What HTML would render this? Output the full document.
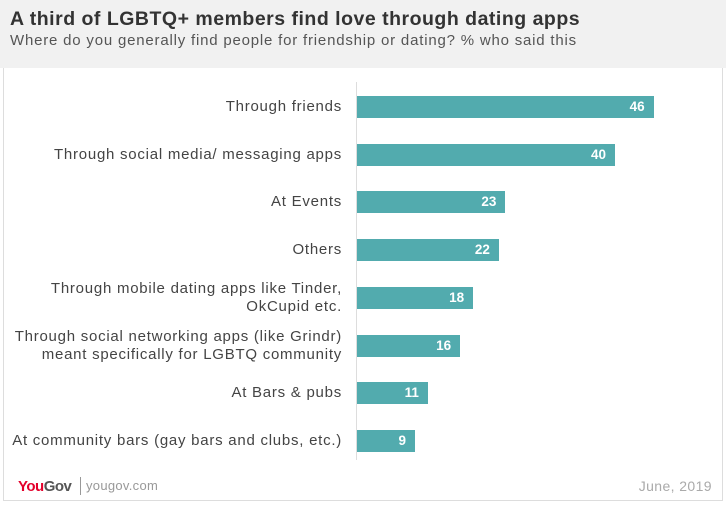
<!DOCTYPE html>
<html><head><meta charset="utf-8"><style>
body{margin:0;width:726px;height:505px;background:#fff;font-family:"Liberation Sans",sans-serif;overflow:hidden;position:relative}
#hdr{position:absolute;left:0;top:0;width:726px;height:68px;background:#f1f1f1}
#title{position:absolute;left:10px;top:8px;font-size:19.5px;font-weight:bold;color:#333;letter-spacing:0.5px}
#sub{position:absolute;left:10px;top:32px;font-size:15px;color:#555;letter-spacing:0.8px}
#card{position:absolute;left:3px;top:68px;width:718px;height:432px;border:1px solid #ddd;border-top:none}
.lbl{position:absolute;right:384px;text-align:right;font-size:15px;color:#444;line-height:18px;letter-spacing:0.75px;white-space:nowrap}
.bar{position:absolute;height:22px;background:#52abae}
.val{position:absolute;color:#fff;font-weight:bold;font-size:13.5px;line-height:22px;text-align:right}
#axis{position:absolute;left:356px;top:82px;width:1px;height:378px;background:#ddd}
</style></head><body>
<div id="hdr"></div>
<div id="title">A third of LGBTQ+ members find love through dating apps</div>
<div id="sub">Where do you generally find people for friendship or dating? % who said this</div>
<div id="card"></div>
<div id="axis"></div>
<div id="chart"></div>
<div style="position:absolute;left:18px;top:478px;font-size:15px;font-weight:bold;color:#e4002b;letter-spacing:-0.5px">You<span style="color:#555">Gov</span></div>
<div style="position:absolute;left:80px;top:477px;font-size:13px;color:#999;border-left:1px solid #999;padding-left:5px;line-height:18px;letter-spacing:0.3px">yougov.com</div>
<div style="position:absolute;right:14px;top:478px;font-size:14px;color:#aaa;letter-spacing:0.4px">June, 2019</div>
<script>
const categories=["Through friends","Through social media/ messaging apps","At Events","Others","Through mobile dating apps like Tinder,<br>OkCupid etc.","Through social networking apps (like Grindr)<br>meant specifically for LGBTQ community","At Bars &amp; pubs","At community bars (gay bars and clubs, etc.)"];
const values=[46,40,23,22,18,16,11,9];
const x0=357,scale=6.45,y0=107,step=47.7;
const c=document.getElementById('chart');
categories.forEach((cat,i)=>{
 const cy=y0+i*step;
 const l=document.createElement('div');l.className='lbl';l.innerHTML=cat;
 const two=cat.includes('<br>');
 l.style.top=(cy-(two?18:9))+'px';
 
 
 c.appendChild(l);
 const w=values[i]*scale;
 const b=document.createElement('div');b.className='bar';
 b.style.left=x0+'px';b.style.top=(cy-11)+'px';b.style.width=w+'px';
 
 
 c.appendChild(b);
 const v=document.createElement('div');v.className='val';v.textContent=values[i];
 v.style.left=x0+'px';v.style.width=(w-9)+'px';v.style.top=(cy-11)+'px';
 
 
 c.appendChild(v);
});
</script>
</body></html>
